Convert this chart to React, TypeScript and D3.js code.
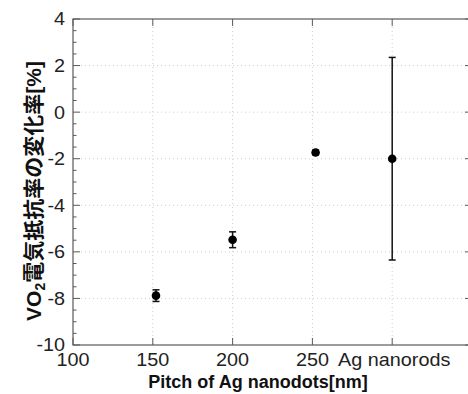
import React from "react";
import * as d3 from "d3";

const xValues = [152, 200, 252, 300];
const yValues = [-7.88, -5.48, -1.73, -2.0];
const yErrors = [0.25, 0.34, 0.1, 4.35];
const xTickValues = [100, 150, 200, 250, 300];
const xTickLabels = ["100", "150", "200", "250", "Ag nanorods"];
const yTickValues = [4, 2, 0, -2, -4, -6, -8, -10];

const W = 468;
const H = 394;
const M = { left: 73, top: 19, right: 472, bottom: 345 };

export default function App() {
  const x = d3.scaleLinear().domain([100, 350]).range([M.left, M.right]);
  const y = d3.scaleLinear().domain([-10, 4]).range([M.bottom, M.top]);
  const minorY = d3.range(-10, 4.01, 0.5).filter((v) => Math.abs(v % 2) > 0.01);
  const axisColor = "#5a5a5a";
  const font = "'Liberation Sans', Arial, sans-serif";
  const sx = 1.1;

  return (
    <svg width={W} height={H} style={{ position: "absolute", left: 0, top: 0, background: "#fff" }}>
      <rect x={0} y={0} width={W} height={H} fill="#fff" />
      {/* grid */}
      {xTickValues.slice(1).map((v) => (
        <line key={"gx" + v} x1={x(v)} x2={x(v)} y1={M.top} y2={M.bottom} stroke="#cfcfcf" strokeWidth={1} strokeDasharray="1,3" />
      ))}
      {yTickValues.slice(1, -1).map((v) => (
        <line key={"gy" + v} x1={M.left} x2={M.right} y1={y(v)} y2={y(v)} stroke="#cfcfcf" strokeWidth={1} strokeDasharray="1,3" />
      ))}
      {/* box */}
      <rect x={M.left} y={M.top} width={M.right - M.left} height={M.bottom - M.top} fill="none" stroke={axisColor} strokeWidth={1.2} />
      {/* y ticks */}
      {yTickValues.map((v) => (
        <g key={"ty" + v}>
          <line x1={M.left} x2={M.left + 7} y1={y(v)} y2={y(v)} stroke={axisColor} />
          <line x1={M.right} x2={M.right - 7} y1={y(v)} y2={y(v)} stroke={axisColor} />
          <text
            transform={`translate(${M.left - 8}, ${y(v)}) scale(${sx}, 1)`}
            dy="0.36em"
            textAnchor="end"
            fontFamily={font}
            fontSize={18}
            fill="#222"
          >
            {v}
          </text>
        </g>
      ))}
      {minorY.map((v) => (
        <g key={"my" + v}>
          <line x1={M.left} x2={M.left + 3.5} y1={y(v)} y2={y(v)} stroke={axisColor} />
          <line x1={M.right} x2={M.right - 3.5} y1={y(v)} y2={y(v)} stroke={axisColor} />
        </g>
      ))}
      {/* x ticks */}
      {xTickValues.map((v, i) => (
        <g key={"tx" + v}>
          <line x1={x(v)} x2={x(v)} y1={M.bottom} y2={M.bottom - 7} stroke={axisColor} />
          <line x1={x(v)} x2={x(v)} y1={M.top} y2={M.top + 7} stroke={axisColor} />
          <text
            transform={`translate(${x(v) + (i === 4 ? 2 : 0)}, ${M.bottom + 21}) scale(${sx}, 1)`}
            textAnchor="middle"
            fontFamily={font}
            fontSize={18}
            fill="#222"
          >
            {xTickLabels[i]}
          </text>
        </g>
      ))}
      {/* error bars & points */}
      {xValues.map((xv, i) => {
        const cx = x(xv);
        const top = y(yValues[i] + yErrors[i]);
        const bot = y(yValues[i] - yErrors[i]);
        return (
          <g key={"p" + i}>
            <line x1={cx} x2={cx} y1={top} y2={bot} stroke="#111" strokeWidth={1.5} />
            <line x1={cx - 3.5} x2={cx + 3.5} y1={top} y2={top} stroke="#111" strokeWidth={1.5} />
            <line x1={cx - 3.5} x2={cx + 3.5} y1={bot} y2={bot} stroke="#111" strokeWidth={1.5} />
            <circle cx={cx} cy={y(yValues[i])} r={4.3} fill="#000" />
          </g>
        );
      })}
      {/* axis labels */}
      <text x={258} y={388} textAnchor="middle" fontFamily={font} fontWeight="bold" fontSize={18} fill="#111">
        Pitch of Ag nanodots[nm]
      </text>
      <text
        transform={`translate(41, 191) rotate(-90)`}
        textAnchor="middle"
        fontFamily="'Liberation Sans', Arial, 'Noto Sans CJK JP', sans-serif"
        fontWeight="bold"
        fontSize={21}
        fill="#111"
      >
        VO<tspan fontSize={14} dy={4}>2</tspan>
        <tspan dy={-4}>電気抵抗率の変化率[%]</tspan>
      </text>
    </svg>
  );
}
